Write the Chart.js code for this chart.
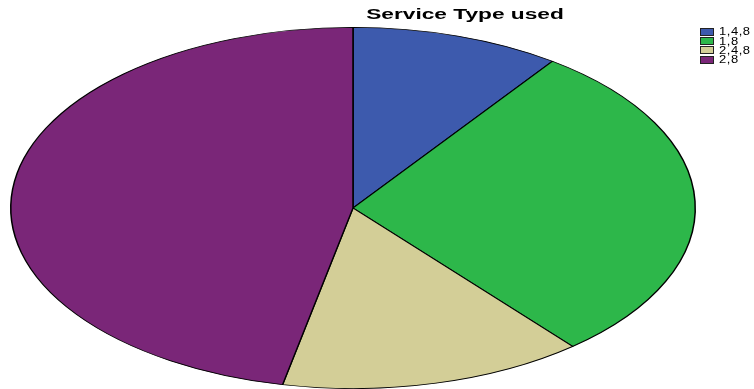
<!DOCTYPE html>
<html><head><meta charset="utf-8">
<script src="https://cdn.jsdelivr.net/npm/chart.js@4"></script>
<style>
html,body{margin:0;padding:0;background:#fff;overflow:hidden}
#wrap{position:relative;width:754px;height:389px}
#title{position:absolute;left:465px;top:6px;font:bold 14px "Liberation Sans",Arial,sans-serif;color:#000;white-space:nowrap;transform:translateX(-50%) scaleX(1.62);transform-origin:center}
#legend{position:absolute;left:700px;top:27px;font:10px "Liberation Sans",Arial,sans-serif;color:#000}
.li{height:9.4px;display:flex;align-items:center;white-space:nowrap}
.bx{width:14px;height:8px;border:1px solid #222;box-sizing:border-box;margin-right:5px;flex:none}
.tx{transform:scaleX(1.3);transform-origin:left center;letter-spacing:0.4px}
</style></head>
<body><div id="wrap"><canvas id="c" width="754" height="389"></canvas>
<div id="title"></div><div id="legend"></div></div>
<script>
const chartTitle = "Service Type used";
const categories = ["1,4,8", "1,8", "2,4,8", "2,8"];
const percents = [9.9, 29.0, 14.4, 46.7];
const colors = ["#3d5aad", "#2db74a", "#d3ce97", "#7a2678"];
const stretchX = 343 / 181;

document.getElementById('title').textContent = chartTitle;
const lg = document.getElementById('legend');
categories.forEach((c, i) => {
  const d = document.createElement('div'); d.className = 'li';
  d.innerHTML = '<span class="bx" style="background:' + colors[i] + '"></span><span class="tx">' + c + '</span>';
  lg.appendChild(d);
});

const stretch = {
  id: 'stretch',
  beforeDatasetsDraw(chart) {
    const arc = chart.getDatasetMeta(0).data[0];
    const ctx = chart.ctx;
    ctx.save();
    ctx.translate(arc.x, arc.y);
    ctx.scale(stretchX, 1);
    ctx.translate(-arc.x, -arc.y);
  },
  afterDatasetsDraw(chart) { chart.ctx.restore(); }
};

new Chart(document.getElementById('c'), {
  type: 'pie',
  data: { labels: categories, datasets: [{ data: percents, backgroundColor: colors, borderColor: '#000', borderWidth: 0.8 }] },
  options: {
    responsive: false, animation: false,
    layout: { padding: { top: 27, right: 48, left: 0, bottom: 0 } },
    plugins: { legend: { display: false }, title: { display: false }, tooltip: { enabled: false } }
  },
  plugins: [stretch]
});
</script></body></html>
